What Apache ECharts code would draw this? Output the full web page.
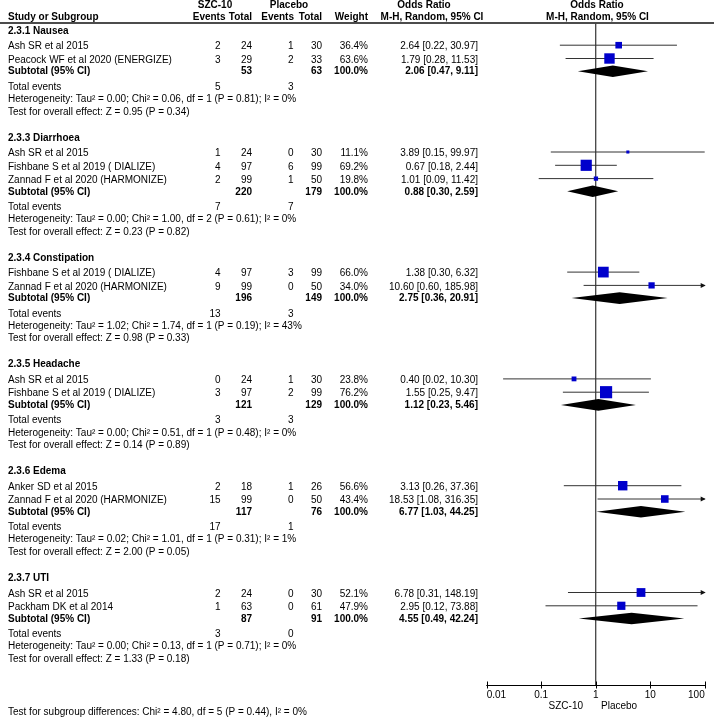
<!DOCTYPE html>
<html><head><meta charset="utf-8">
<script src="https://cdn.jsdelivr.net/npm/echarts@6/dist/echarts.min.js"></script>
<style>html,body{margin:0;padding:0;background:#fff}#c{width:714px;height:719px}</style>
</head><body><div id="c"></div>
<script>
// ---------- DATA ----------
const groups = ['2.3.1 Nausea', '2.3.3 Diarrhoea', '2.3.4 Constipation', '2.3.5 Headache', '2.3.6 Edema', '2.3.7 UTI'];
const studyGroup = [0, 0, 1, 1, 1, 2, 2, 3, 3, 4, 4, 5, 5];
const studyNames = [
  'Ash SR et al 2015', 'Peacock WF et al 2020 (ENERGIZE)',
  'Ash SR et al 2015', 'Fishbane S et al 2019 ( DIALIZE)', 'Zannad F et al 2020 (HARMONIZE)',
  'Fishbane S et al 2019 ( DIALIZE)', 'Zannad F et al 2020 (HARMONIZE)',
  'Ash SR et al 2015', 'Fishbane S et al 2019 ( DIALIZE)',
  'Anker SD et al 2015', 'Zannad F et al 2020 (HARMONIZE)',
  'Ash SR et al 2015', 'Packham DK et al 2014'
];
const szcEvents = [2, 3, 1, 4, 2, 4, 9, 0, 3, 2, 15, 2, 1];
const szcTotal  = [24, 29, 24, 97, 99, 97, 99, 24, 97, 18, 99, 24, 63];
const plcEvents = [1, 2, 0, 6, 1, 3, 0, 1, 2, 1, 0, 0, 0];
const plcTotal  = [30, 33, 30, 99, 50, 99, 50, 30, 99, 26, 50, 30, 61];
const weights   = [36.4, 63.6, 11.1, 69.2, 19.8, 66.0, 34.0, 23.8, 76.2, 56.6, 43.4, 52.1, 47.9];
const orEst  = [2.64, 1.79, 3.89, 0.67, 1.01, 1.38, 10.60, 0.40, 1.55, 3.13, 18.53, 6.78, 2.95];
const orLow  = [0.22, 0.28, 0.15, 0.18, 0.09, 0.30, 0.60, 0.02, 0.25, 0.26, 1.08, 0.31, 0.12];
const orHigh = [30.97, 11.53, 99.97, 2.44, 11.42, 6.32, 185.98, 10.30, 9.47, 37.36, 316.35, 148.19, 73.88];

const subSzcTotal = [53, 220, 196, 121, 117, 87];
const subPlcTotal = [63, 179, 149, 129, 76, 91];
const subOR   = [2.06, 0.88, 2.75, 1.12, 6.77, 4.55];
const subLow  = [0.47, 0.30, 0.36, 0.23, 1.03, 0.49];
const subHigh = [9.11, 2.59, 20.91, 5.46, 44.25, 42.24];
const totEvSzc = [5, 7, 13, 3, 17, 3];
const totEvPlc = [3, 7, 3, 3, 1, 0];
const heterogeneity = [
  'Tau\u00b2 = 0.00; Chi\u00b2 = 0.06, df = 1 (P = 0.81); I\u00b2 = 0%',
  'Tau\u00b2 = 0.00; Chi\u00b2 = 1.00, df = 2 (P = 0.61); I\u00b2 = 0%',
  'Tau\u00b2 = 1.02; Chi\u00b2 = 1.74, df = 1 (P = 0.19); I\u00b2 = 43%',
  'Tau\u00b2 = 0.00; Chi\u00b2 = 0.51, df = 1 (P = 0.48); I\u00b2 = 0%',
  'Tau\u00b2 = 0.02; Chi\u00b2 = 1.01, df = 1 (P = 0.31); I\u00b2 = 1%',
  'Tau\u00b2 = 0.00; Chi\u00b2 = 0.13, df = 1 (P = 0.71); I\u00b2 = 0%'
];
const overallEffect = [
  'Z = 0.95 (P = 0.34)', 'Z = 0.23 (P = 0.82)', 'Z = 0.98 (P = 0.33)',
  'Z = 0.14 (P = 0.89)', 'Z = 2.00 (P = 0.05)', 'Z = 1.33 (P = 0.18)'
];
const tickValues = [0.01, 0.1, 1, 10, 100];
const tickLabels = ['0.01', '0.1', '1', '10', '100'];
const favourLabels = ['SZC-10', 'Placebo'];
const footer = 'Test for subgroup differences: Chi\u00b2 = 4.80, df = 5 (P = 0.44), I\u00b2 = 0%';

// ---------- LAYOUT ----------
const FONT = '"Liberation Sans", Arial, Helvetica, sans-serif';
const L = { first: 31, hdrToStudy: 15.7, study: 13.3, toSub: 11.7, toTot: 15.2, toHet: 12.2, toTest: 12.7, toNext: 26, toFooter: 53.5, mark: -1.5 };
const col = { name: 8, szcEv: 220.5, szcTot: 252, plcEv: 293.5, plcTot: 322, w: 368, or: 478 };

const texts = [];
function T(x, y, t, align, bold) { texts.push({ x, y, t: String(t), align: align || 'left', bold: !!bold }); }
const studyPts = [], subPts = [];
const f2 = v => v.toFixed(2);

T(215, 5.5, 'SZC-10', 'center', true);
T(289, 5.5, 'Placebo', 'center', true);
T(424, 5.5, 'Odds Ratio', 'center', true);
T(597, 5.5, 'Odds Ratio', 'center', true);
T(col.name, 17.5, 'Study or Subgroup', 'left', true);
T(225.5, 17.5, 'Events', 'right', true);
T(252, 17.5, 'Total', 'right', true);
T(294, 17.5, 'Events', 'right', true);
T(322, 17.5, 'Total', 'right', true);
T(368, 17.5, 'Weight', 'right', true);
T(432, 17.5, 'M-H, Random, 95% CI', 'center', true);
T(597.5, 17.5, 'M-H, Random, 95% CI', 'center', true);

let y = L.first, lastTest = 0;
groups.forEach((g, gi) => {
  T(col.name, y, g, 'left', true);
  let yy = y + L.hdrToStudy;
  const idx = studyGroup.map((s, i) => s === gi ? i : -1).filter(i => i >= 0);
  idx.forEach((i, k) => {
    if (k > 0) yy += L.study;
    T(col.name, yy, studyNames[i]);
    T(col.szcEv, yy, szcEvents[i], 'right');
    T(col.szcTot, yy, szcTotal[i], 'right');
    T(col.plcEv, yy, plcEvents[i], 'right');
    T(col.plcTot, yy, plcTotal[i], 'right');
    T(col.w, yy, weights[i].toFixed(1) + '%', 'right');
    T(col.or, yy, f2(orEst[i]) + ' [' + f2(orLow[i]) + ', ' + f2(orHigh[i]) + ']', 'right');
    studyPts.push([orEst[i], yy + L.mark, orLow[i], orHigh[i], weights[i]]);
  });
  yy += L.toSub;
  T(col.name, yy, 'Subtotal (95% CI)', 'left', true);
  T(col.szcTot, yy, subSzcTotal[gi], 'right', true);
  T(col.plcTot, yy, subPlcTotal[gi], 'right', true);
  T(col.w, yy, '100.0%', 'right', true);
  T(col.or, yy, f2(subOR[gi]) + ' [' + f2(subLow[gi]) + ', ' + f2(subHigh[gi]) + ']', 'right', true);
  subPts.push([subOR[gi], yy - 0.5, subLow[gi], subHigh[gi]]);
  yy += L.toTot;
  T(col.name, yy, 'Total events');
  T(col.szcEv, yy, totEvSzc[gi], 'right');
  T(col.plcEv, yy, totEvPlc[gi], 'right');
  yy += L.toHet;
  T(col.name, yy, 'Heterogeneity: ' + heterogeneity[gi]);
  yy += L.toTest;
  T(col.name, yy, 'Test for overall effect: ' + overallEffect[gi]);
  lastTest = yy;
  y = yy + L.toNext;
});
T(col.name, lastTest + L.toFooter, footer);
T(583, 706, favourLabels[0], 'right');
T(601, 706, favourLabels[1], 'left');

const AXIS_Y = 685, HEADER_Y = 23;

const option = {
  animation: false,
  grid: [
    { left: 0, top: 0, width: 714, height: 719 },
    { left: 486.7, width: 218, top: 0, height: AXIS_Y }
  ],
  xAxis: [
    { type: 'value', gridIndex: 0, min: 0, max: 714, show: false },
    { type: 'log', logBase: 10, gridIndex: 1, min: 0.01, max: 100, position: 'bottom',
      axisLine: { show: true, onZero: false, lineStyle: { color: '#000', width: 1 } },
      axisTick: { show: false },
      axisLabel: { fontSize: 10, color: '#000', fontFamily: FONT, margin: 5,
        alignMinLabel: 'left', alignMaxLabel: 'right',
        formatter: v => {
          let best = 0, d = Infinity;
          tickValues.forEach((t, i) => { const e = Math.abs(Math.log10(t) - Math.log10(v)); if (e < d) { d = e; best = i; } });
          return tickLabels[best];
        } },
      splitLine: { show: false } }
  ],
  yAxis: [
    { type: 'value', gridIndex: 0, min: 0, max: 719, inverse: true, show: false },
    { type: 'value', gridIndex: 1, min: 0, max: AXIS_Y, inverse: true, show: false }
  ],
  series: [
    { type: 'line', xAxisIndex: 0, yAxisIndex: 0, data: [[0, HEADER_Y], [714, HEADER_Y]],
      showSymbol: false, silent: true, lineStyle: { color: '#111', width: 1.3 }, z: 1 },
    { type: 'line', xAxisIndex: 1, yAxisIndex: 1, data: [[1, HEADER_Y], [1, AXIS_Y]],
      showSymbol: false, silent: true, lineStyle: { color: '#444', width: 1.3 }, z: 1 },
    // axis ticks crossing the axis line
    { type: 'custom', xAxisIndex: 1, yAxisIndex: 1, z: 3, silent: true, clip: false,
      data: tickValues.map(t => [t, AXIS_Y]),
      renderItem: (params, api) => {
        const p = api.coord([api.value(0), api.value(1)]);
        const x = Math.round(p[0]) + 0.5;
        return { type: 'line', shape: { x1: x, y1: p[1] - 3.5, x2: x, y2: p[1] + 3.5 }, style: { stroke: '#000', lineWidth: 1 } };
      } },
    { type: 'custom', xAxisIndex: 1, yAxisIndex: 1, z: 3, silent: true,
      data: studyPts,
      renderItem: (params, api) => {
        const yv = api.value(1), hiRaw = api.value(3);
        const lo = Math.max(api.value(2), 0.01), hi = Math.min(hiRaw, 100);
        const p0 = api.coord([lo, yv]), p1 = api.coord([hi, yv]), pc = api.coord([api.value(0), yv]);
        const s = 1.5 + 0.14 * api.value(4);
        const ch = [
          { type: 'line', shape: { x1: p0[0], y1: p0[1], x2: p1[0], y2: p1[1] }, style: { stroke: '#333', lineWidth: 1 } },
          { type: 'rect', shape: { x: pc[0] - s / 2, y: pc[1] - s / 2, width: s, height: s }, style: { fill: '#0000CC' } }
        ];
        if (hiRaw > 100) ch.push({ type: 'polygon', shape: { points: [[p1[0] + 1, p1[1]], [p1[0] - 4, p1[1] - 2.5], [p1[0] - 4, p1[1] + 2.5]] }, style: { fill: '#111' } });
        return { type: 'group', children: ch };
      } },
    { type: 'custom', xAxisIndex: 1, yAxisIndex: 1, z: 3, silent: true,
      data: subPts,
      renderItem: (params, api) => {
        const yv = api.value(1);
        const a = api.coord([api.value(2), yv]), b = api.coord([api.value(0), yv]), c = api.coord([api.value(3), yv]);
        const h = 5.8;
        return { type: 'polygon', shape: { points: [[a[0], a[1]], [b[0], b[1] - h], [c[0], c[1]], [b[0], b[1] + h]] }, style: { fill: '#000' } };
      } },
    { type: 'custom', xAxisIndex: 0, yAxisIndex: 0, z: 4, silent: true,
      data: texts.map(t => [t.x, t.y]),
      renderItem: (params, api) => {
        const t = texts[params.dataIndex];
        const p = api.coord([api.value(0), api.value(1)]);
        return { type: 'text', x: p[0], y: p[1], style: { text: t.t, fill: '#000', align: t.align, verticalAlign: 'middle',
          font: (t.bold ? 'bold ' : '') + '10px ' + FONT } };
      } }
  ]
};
const chart = echarts.init(document.getElementById('c'), null, { renderer: 'canvas' });
chart.setOption(option);
</script>
</body></html>
